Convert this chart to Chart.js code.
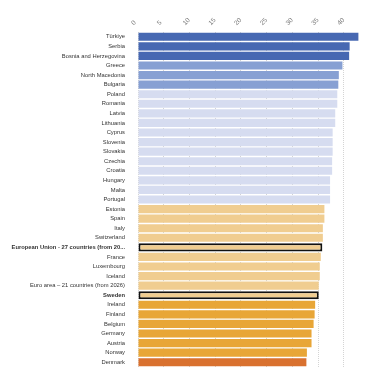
<!DOCTYPE html>
<html>
<head>
<meta charset="utf-8">
<script src="https://cdn.jsdelivr.net/npm/chart.js@4"></script>
<style>
  html, body { margin: 0; padding: 0; background: #fff; }
  #wrap { width: 392px; height: 392px; }
</style>
</head>
<body>
<div id="wrap"><canvas id="myChart"></canvas></div>
<script>
// data
const countries = [
    'Türkiye', 'Serbia', 'Bosnia and Herzegovina', 'Greece', 'North Macedonia', 'Bulgaria',
    'Poland', 'Romania', 'Latvia', 'Lithuania', 'Cyprus', 'Slovenia', 'Slovakia', 'Czechia',
    'Croatia', 'Hungary', 'Malta', 'Portugal', 'Estonia', 'Spain', 'Italy', 'Switzerland',
    'European Union - 27 countries (from 2020)', 'France', 'Luxembourg', 'Iceland',
    'Euro area – 21 countries (from 2026)', 'Sweden', 'Ireland', 'Finland', 'Belgium',
    'Germany', 'Austria', 'Norway', 'Denmark'
];
const values = [
    42.8, 41.1, 41.0, 39.7, 39.0, 38.9,
    38.7, 38.7, 38.3, 38.3, 37.8, 37.8, 37.8, 37.7,
    37.7, 37.3, 37.3, 37.3, 36.2, 36.2, 35.9, 35.9,
    35.8, 35.5, 35.3, 35.3,
    35.1, 35.1, 34.4, 34.3, 34.1,
    33.7, 33.7, 32.8, 32.7
];
const xTicks = [0, 5, 10, 15, 20, 25, 30, 35, 40];
const highlighted = ['European Union - 27 countries (from 2020)', 'Sweden'];

// colour bands, top to bottom
const colorFor = (i) => {
    if (i < 3) return '#4768b2';
    if (i < 6) return '#87a0d3';
    if (i < 18) return '#d6dcf0';
    if (i < 28) return '#f0cd90';
    if (i < 34) return '#e8a637';
    return '#d9712f';
};

const ctx = document.getElementById('myChart').getContext('2d');
const myChart = new Chart(ctx, {
    type: 'bar',
    data: {
        labels: countries,
        datasets: [{
            data: values,
            backgroundColor: countries.map((c, i) => colorFor(i)),
            borderColor: countries.map(c => highlighted.includes(c) ? '#111' : 'rgba(0,0,0,0)'),
            borderWidth: countries.map(c => highlighted.includes(c) ? 2 : 0),
            borderSkipped: false,
            barPercentage: 0.85,
            categoryPercentage: 1
        }]
    },
    options: {
        indexAxis: 'y',
        responsive: true,
        maintainAspectRatio: false,
        animation: false,
        layout: { padding: { top: 0, right: 30, bottom: 25, left: 0 } },
        plugins: {
            legend: { display: false },
            tooltip: { enabled: false }
        },
        scales: {
            x: {
                position: 'top',
                min: 0,
                max: 43.5,
                afterBuildTicks: (scale) => { scale.ticks = xTicks.map(v => ({ value: v })); },
                afterFit: (scale) => { scale.height = 32; },
                border: { display: false, dash: [1, 1] },
                grid: {
                    color: '#d4d4d4',
                    lineWidth: 1,
                    drawTicks: false
                },
                ticks: {
                    padding: 5,
                    minRotation: 45,
                    maxRotation: 45,
                    color: '#777',
                    font: { family: 'Liberation Sans', size: 6.5 }
                }
            },
            y: {
                afterFit: (scale) => { scale.width = 138; },
                border: { display: false },
                grid: { display: false },
                ticks: {
                    padding: 5,
                    autoSkip: false,
                    color: '#333',
                    font: (c) => ({
                        family: 'Liberation Sans',
                        size: 5.8,
                        weight: highlighted.includes(countries[c.index]) ? 'bold' : 'normal'
                    }),
                    callback: function (val, i) {
                        const s = countries[i];
                        return s.length > 40 ? s.slice(0, 38) + '...' : s;
                    }
                }
            }
        }
    }
});
</script>
</body>
</html>
